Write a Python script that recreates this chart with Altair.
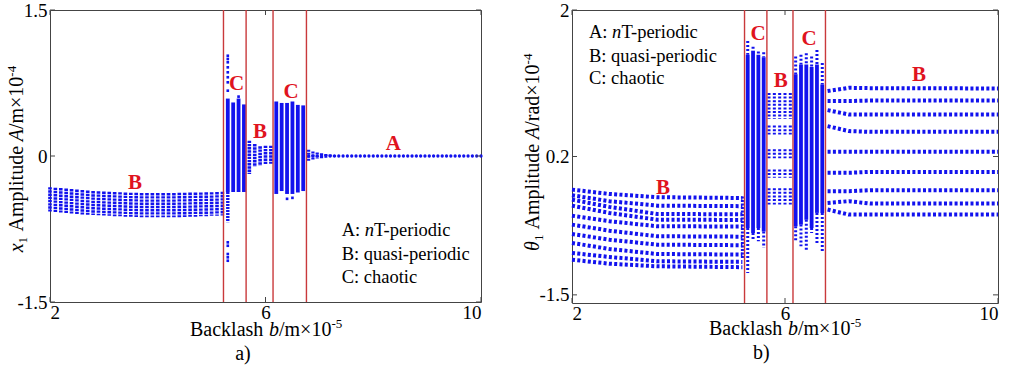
import altair as alt
import pandas as pd

# ------------------------------------------------------------------
# DATA (b in 1e-5 m, amplitudes in 1e-4)
# ------------------------------------------------------------------
# ---- panel a) x1 amplitude ----
LA_B1_B = [2.0, 2.1, 2.2, 2.3, 2.4, 2.5, 2.6, 2.7, 2.8, 2.9, 3.0, 3.1, 3.2, 3.3, 3.4, 3.5, 3.6,
           3.7, 3.8, 3.9, 4.0, 4.1, 4.2, 4.3, 4.4, 4.5, 4.6, 4.7, 4.8, 4.9, 5.0, 5.1, 5.2]
LA_B1_HI = [-0.32, -0.325, -0.33, -0.335, -0.34, -0.345, -0.35, -0.355, -0.36, -0.362, -0.365,
            -0.368, -0.37, -0.372, -0.375, -0.377, -0.378, -0.38, -0.38, -0.38, -0.38, -0.38,
            -0.38, -0.38, -0.378, -0.378, -0.376, -0.375, -0.374, -0.373, -0.372, -0.37, -0.368]
LA_B1_LO = [-0.57, -0.575, -0.58, -0.585, -0.59, -0.595, -0.6, -0.603, -0.606, -0.61, -0.612,
            -0.615, -0.618, -0.62, -0.623, -0.625, -0.627, -0.628, -0.63, -0.63, -0.63, -0.63,
            -0.63, -0.63, -0.628, -0.627, -0.625, -0.623, -0.62, -0.618, -0.615, -0.613, -0.612]
LA_C1_B = [5.3, 5.4, 5.5, 5.6]
LA_C1_HI = [0.59, 0.55, 0.59, 0.53]
LA_C1_LO = [-0.37, -0.37, -0.37, -0.37]
LA_C1_TAIL_B = [5.3]
LA_C1_TAIL_HI = [-0.37]
LA_C1_TAIL_LO = [-0.68]
LA_OUT_B = [5.3, 5.3, 5.3, 5.3, 5.3, 5.3, 5.3, 5.3, 5.3, 5.3, 5.3, 5.3, 5.3, 6.4, 6.5, 5.5]
LA_OUT_A = [1.03, 0.997, 0.963, 0.911, 0.86, 0.809, 0.757, 0.671, -0.887, -0.922, -1.007,
            -1.041, -1.076, -0.44, -0.43, 0.61]
LA_B2_B = [5.7, 5.8, 5.9, 6.0, 6.1]
LA_B2_HI = [0.157, 0.123, 0.10, 0.106, 0.106]
LA_B2_LO = [-0.185, -0.11, -0.10, -0.09, -0.08]
LA_C2_B = [6.2, 6.3, 6.4, 6.5, 6.6, 6.7]
LA_C2_HI = [0.56, 0.545, 0.545, 0.56, 0.525, 0.52]
LA_C2_LO = [-0.39, -0.36, -0.39, -0.39, -0.375, -0.36]
LA_A_B = [6.80, 6.88, 6.96, 7.04, 7.12, 7.20, 7.28, 7.36, 7.44, 7.52, 7.60, 7.68, 7.76, 7.84,
          7.92, 8.00, 8.08, 8.16, 8.24, 8.32, 8.40, 8.48, 8.56, 8.64, 8.72, 8.80, 8.88, 8.96,
          9.04, 9.12, 9.20, 9.28, 9.36, 9.44, 9.52, 9.60, 9.68, 9.76, 9.84, 9.92, 10.00]
LA_A_AMP = [0.0] * len(LA_A_B)
LA_A_SPREAD_B = [6.80, 6.88, 6.96, 7.04, 7.12, 7.20, 7.28]
LA_A_SPREAD_HI = [0.065, 0.045, 0.035, 0.028, 0.02, 0.016, 0.01]
LA_A_SPREAD_LO = [-0.055, -0.04, -0.03, -0.022, -0.016, -0.012, -0.008]
LA_BOUNDS = [5.22, 5.64, 6.14, 6.76]

# ---- panel b) theta1 amplitude ----
RB_B1_ANCHOR_B = [2.0, 2.7, 3.6, 5.2]
RB_B1_ROWS = [
    [-0.207, -0.260, -0.300, -0.310],
    [-0.276, -0.349, -0.404, -0.410],
    [-0.330, -0.419, -0.506, -0.510],
    [-0.404, -0.493, -0.576, -0.580],
    [-0.527, -0.595, -0.657, -0.660],
    [-0.637, -0.711, -0.780, -0.785],
    [-0.752, -0.822, -0.883, -0.890],
    [-0.862, -0.936, -0.998, -1.005],
    [-0.985, -1.034, -1.087, -1.095],
    [-1.068, -1.117, -1.149, -1.160],
]
RB_B1_EDGE_B = [5.2]
RB_B1_EDGE_HI = [-0.29]
RB_B1_EDGE_LO = [-1.05]
RB_C_B = [5.3, 5.4, 5.5, 5.6, 6.2, 6.3, 6.4, 6.5, 6.6, 6.7]
RB_C_TOP = [1.62, 1.55, 1.49, 1.48, 1.43, 1.45, 1.47, 1.43, 1.51, 1.35]
RB_C_DTOP = [1.45, 1.50, 1.45, 1.42, 1.21, 1.33, 1.33, 1.30, 1.33, 1.085]
RB_C_DBOT = [-0.68, -0.74, -0.68, -0.72, -0.657, -0.637, -0.576, -0.678, -0.493, -0.493]
RB_C_BOT = [-1.23, -0.82, -0.84, -0.92, -0.84, -0.903, -0.964, -0.739, -0.883, -0.985]
RB_B2_B = [5.7, 5.8, 5.9, 6.0, 6.1]
RB_B2_CLUSTER_HI = [0.98, 0.58, 0.29, 0.04, -0.19]
RB_B2_CLUSTER_LO = [0.66, 0.47, 0.18, -0.06, -0.39]
RB_B3_ANCHOR_B = [6.8, 7.2, 7.6, 10.0]
RB_B3_ROWS = [
    [1.004, 1.044, 1.040, 1.036],
    [0.881, 0.881, 0.888, 0.888],
    [0.770, 0.716, 0.716, 0.716],
    [0.573, 0.512, 0.503, 0.503],
    [0.257, 0.257, 0.257, 0.257],
    [0.000, 0.000, 0.011, 0.011],
    [-0.226, -0.226, -0.214, -0.214],
    [-0.370, -0.349, -0.379, -0.379],
    [-0.452, -0.514, -0.514, -0.514],
]
RB_BOUNDS = [5.24, 5.66, 6.15, 6.76]

X_TICKS = [2, 6, 10]
LA_Y_TICKS = [1.5, 0, -1.5]
RB_Y_TICKS = [2, 0.2, -1.5]

# ------------------------------------------------------------------
# STYLE / LAYOUT
# ------------------------------------------------------------------
BLUE = "#1212ee"
RED_LINE = "#c9393b"
RED_TXT = "#e0141e"
FRAME = "#444444"
SERIF = "'Liberation Serif', 'Times New Roman', 'DejaVu Serif', serif"
W_L, H_L = 431, 292
W_R, H_R = 426, 293
LEG = 18.5


def xenc(field):
    return alt.X(f"{field}:Q", scale=alt.Scale(domain=[2, 10], nice=False, zero=False),
                 axis=alt.Axis(values=X_TICKS, title=None, grid=False, ticks=False, domain=False,
                               labelFont=SERIF, labelFontSize=19, labelColor="black",
                               labelPadding=1, labelFlush=True, labelExpr="'' + datum.value"))


def yenc(field, dom, ticks):
    return alt.Y(f"{field}:Q", scale=alt.Scale(domain=dom, nice=False, zero=False),
                 axis=alt.Axis(values=ticks, title=None, grid=False, ticks=False, domain=False,
                               labelFont=SERIF, labelFontSize=19, labelColor="black",
                               labelPadding=3, labelFlush=False, labelExpr="'' + datum.value"))


def txt(px, py, s, size=LEG, style="normal", weight="normal", color="black", angle=0,
        align="left", baseline="alphabetic"):
    return alt.Chart(pd.DataFrame({"t": [s]})).mark_text(
        align=align, baseline=baseline, font=SERIF, fontSize=size, fontStyle=style,
        fontWeight=weight, color=color, angle=angle
    ).encode(x=alt.value(px), y=alt.value(py), text="t:N")


def cols(b, hi, lo):
    return pd.DataFrame({"b": b, "hi": hi, "lo": lo})


def rows_df(anchor_b, rows):
    recs = []
    for i, r in enumerate(rows):
        for bb, aa in zip(anchor_b, r):
            recs.append({"row": i, "b": bb, "A": aa})
    return pd.DataFrame(recs)


def panel_common(dom, yt, W, H, bounds):
    out = []
    out.append(alt.Chart(pd.DataFrame({"b": bounds})).mark_rule(color=RED_LINE, strokeWidth=1.4)
               .encode(x=xenc("b")))
    tk = pd.DataFrame({"b": X_TICKS})
    out.append(alt.Chart(tk).mark_rule(color=FRAME).encode(x=xenc("b"), y=alt.value(0), y2=alt.value(5)))
    out.append(alt.Chart(tk).mark_rule(color=FRAME).encode(x=xenc("b"), y=alt.value(H), y2=alt.value(H - 5)))
    ty = pd.DataFrame({"v": yt})
    out.append(alt.Chart(ty).mark_rule(color=FRAME).encode(y=yenc("v", dom, yt), x=alt.value(0), x2=alt.value(5)))
    out.append(alt.Chart(ty).mark_rule(color=FRAME).encode(y=yenc("v", dom, yt), x=alt.value(W), x2=alt.value(W - 5)))
    return out


# ---------------- panel a ----------------
DA = [-1.5, 1.5]
la = []
la.append(alt.Chart(cols(LA_B1_B, LA_B1_HI, LA_B1_LO)).mark_rule(color=BLUE, strokeWidth=3.6, strokeDash=[2.4, 0.8])
          .encode(x=xenc("b"), y=yenc("hi", DA, LA_Y_TICKS), y2="lo:Q"))
la.append(alt.Chart(cols(LA_C1_B, LA_C1_HI, LA_C1_LO)).mark_rule(color=BLUE, strokeWidth=3.8)
          .encode(x=xenc("b"), y=yenc("hi", DA, LA_Y_TICKS), y2="lo:Q"))
la.append(alt.Chart(cols(LA_C1_TAIL_B, LA_C1_TAIL_HI, LA_C1_TAIL_LO)).mark_rule(color=BLUE, strokeWidth=3.4, strokeDash=[2, 1])
          .encode(x=xenc("b"), y=yenc("hi", DA, LA_Y_TICKS), y2="lo:Q"))
la.append(alt.Chart(cols(LA_B2_B, LA_B2_HI, LA_B2_LO)).mark_rule(color=BLUE, strokeWidth=3.6, strokeDash=[2.4, 0.8])
          .encode(x=xenc("b"), y=yenc("hi", DA, LA_Y_TICKS), y2="lo:Q"))
la.append(alt.Chart(cols(LA_C2_B, LA_C2_HI, LA_C2_LO)).mark_rule(color=BLUE, strokeWidth=3.8)
          .encode(x=xenc("b"), y=yenc("hi", DA, LA_Y_TICKS), y2="lo:Q"))
la.append(alt.Chart(cols(LA_A_SPREAD_B, LA_A_SPREAD_HI, LA_A_SPREAD_LO)).mark_rule(color=BLUE, strokeWidth=3.2, strokeDash=[2, 1])
          .encode(x=xenc("b"), y=yenc("hi", DA, LA_Y_TICKS), y2="lo:Q"))
la.append(alt.Chart(pd.DataFrame({"b": LA_A_B, "A": LA_A_AMP})).mark_circle(color=BLUE, size=11, opacity=1)
          .encode(x=xenc("b"), y=yenc("A", DA, LA_Y_TICKS)))
la.append(alt.Chart(pd.DataFrame({"b": LA_OUT_B, "A": LA_OUT_A})).mark_square(color=BLUE, size=7, opacity=1)
          .encode(x=xenc("b"), y=yenc("A", DA, LA_Y_TICKS)))
la += panel_common(DA, LA_Y_TICKS, W_L, H_L, LA_BOUNDS)
for (px, py, s) in [(186.7, 74, "C"), (241, 81.7, "C"), (210, 122.3, "B"), (343.3, 134, "A"), (85, 173.3, "B")]:
    la.append(txt(px, py, s, size=21, weight="bold", color=RED_TXT, align="center", baseline="middle"))
la.append(txt(291.7, 226, "A:"))
la.append(txt(314.8, 226, "n", style="italic"))
la.append(txt(324, 226, "T-periodic"))
la.append(txt(291.7, 250, "B: quasi-periodic"))
la.append(txt(291.7, 272.5, "C: chaotic"))
la.append(txt(140, 326, "Backlash", size=20))
la.append(txt(219, 326, "b", size=20, style="italic"))
la.append(txt(229, 326, "/m\u00d710", size=20))
la.append(txt(281.5, 318, "-5", size=13))
la.append(txt(-27, 242.3, "x", size=20, style="italic", angle=270))
la.append(txt(-23, 233.4, "1", size=13, angle=270))
la.append(txt(-27, 221.5, "Amplitude", size=20, angle=270))
la.append(txt(-27, 131.3, "A", size=20, style="italic", angle=270))
la.append(txt(-27, 119.1, "/m\u00d710", size=20, angle=270))
la.append(txt(-34, 66.7, "-4", size=13, angle=270))
la.append(txt(193, 344, "a)", size=20, align="center", baseline="middle"))
left = alt.layer(*la).properties(width=W_L, height=H_L)

# ---------------- panel b ----------------
DB = [-1.6, 2]
rb = []
rb.append(alt.Chart(rows_df(RB_B1_ANCHOR_B, RB_B1_ROWS)).mark_line(color=BLUE, strokeWidth=4, strokeDash=[3, 2.3])
          .encode(x=xenc("b"), y=yenc("A", DB, RB_Y_TICKS), detail="row:N"))
rb.append(alt.Chart(cols(RB_B1_EDGE_B, RB_B1_EDGE_HI, RB_B1_EDGE_LO)).mark_rule(color=BLUE, strokeWidth=3, strokeDash=[2, 1.5])
          .encode(x=xenc("b"), y=yenc("hi", DB, RB_Y_TICKS), y2="lo:Q"))
cdf = pd.DataFrame({"b": RB_C_B, "top": RB_C_TOP, "dtop": RB_C_DTOP, "dbot": RB_C_DBOT, "bot": RB_C_BOT})
rb.append(alt.Chart(cdf).mark_rule(color=BLUE, strokeWidth=3.8)
          .encode(x=xenc("b"), y=yenc("dtop", DB, RB_Y_TICKS), y2="dbot:Q"))
rb.append(alt.Chart(cdf).mark_rule(color=BLUE, strokeWidth=3, strokeDash=[2, 2])
          .encode(x=xenc("b"), y=yenc("top", DB, RB_Y_TICKS), y2="dtop:Q"))
rb.append(alt.Chart(cdf).mark_rule(color=BLUE, strokeWidth=3, strokeDash=[2, 2])
          .encode(x=xenc("b"), y=yenc("dbot", DB, RB_Y_TICKS), y2="bot:Q"))
recs = []
for bb in RB_B2_B:
    for hi, lo in zip(RB_B2_CLUSTER_HI, RB_B2_CLUSTER_LO):
        recs.append({"b": bb, "hi": hi, "lo": lo})
rb.append(alt.Chart(pd.DataFrame(recs)).mark_rule(color=BLUE, strokeWidth=3, strokeDash=[2, 1.6])
          .encode(x=xenc("b"), y=yenc("hi", DB, RB_Y_TICKS), y2="lo:Q"))
rb.append(alt.Chart(rows_df(RB_B3_ANCHOR_B, RB_B3_ROWS)).mark_line(color=BLUE, strokeWidth=4, strokeDash=[3, 2.3])
          .encode(x=xenc("b"), y=yenc("A", DB, RB_Y_TICKS), detail="row:N"))
rb += panel_common(DB, RB_Y_TICKS, W_R, H_R, RB_BOUNDS)
for (px, py, s) in [(186, 23.7, "C"), (237, 29.4, "C"), (208.7, 71, "B"), (347, 65, "B"), (91, 177.7, "B")]:
    rb.append(txt(px, py, s, size=21, weight="bold", color=RED_TXT, align="center", baseline="middle"))
rb.append(txt(17, 27.5, "A:"))
rb.append(txt(40.1, 27.5, "n", style="italic"))
rb.append(txt(49.4, 27.5, "T-periodic"))
rb.append(txt(17, 51.5, "B: quasi-periodic"))
rb.append(txt(17, 74, "C: chaotic"))
rb.append(txt(137, 324.7, "Backlash", size=20))
rb.append(txt(216, 324.7, "b", size=20, style="italic"))
rb.append(txt(226, 324.7, "/m\u00d710", size=20))
rb.append(txt(278.5, 316.7, "-5", size=13))
rb.append(txt(-33, 241, "\u03b8", size=20, style="italic", angle=270))
rb.append(txt(-29, 231, "1", size=13, angle=270))
rb.append(txt(-33, 219.5, "Amplitude", size=20, angle=270))
rb.append(txt(-33, 129, "A", size=20, style="italic", angle=270))
rb.append(txt(-33, 116.8, "/rad\u00d710", size=20, angle=270))
rb.append(txt(-40, 54.4, "-4", size=13, angle=270))
rb.append(txt(189.4, 342.7, "b)", size=20, align="center", baseline="middle"))
right = alt.layer(*rb).properties(width=W_R, height=H_R)

chart = alt.hconcat(left, right, spacing=91, bounds="flush").properties(
    padding={"left": 5, "top": 0, "right": 0, "bottom": 0}
).configure_view(stroke=FRAME, strokeWidth=1)

chart.save("out.html", embed_options={"renderer": "svg", "actions": False})
